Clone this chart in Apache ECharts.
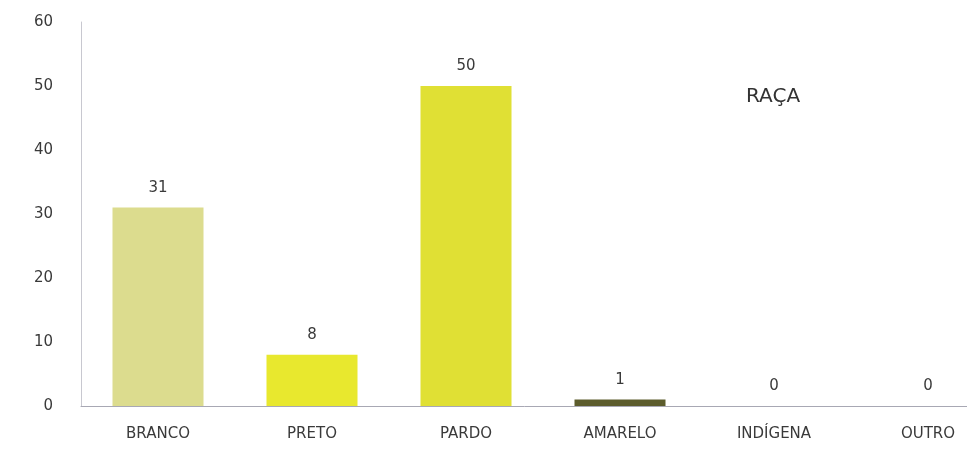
<!DOCTYPE html>
<html><head><meta charset="utf-8">
<script src="https://cdn.jsdelivr.net/npm/echarts@6/dist/echarts.min.js"></script>
<style>html,body{margin:0;padding:0;background:#fff}#c{width:967px;height:449px}</style>
</head><body><div id="c"></div>
<script>
var categories = ['BRANCO','PRETO','PARDO','AMARELO','INDÍGENA','OUTRO'];
var values = [31, 8, 50, 1, 0, 0];
var barColors = ['#dcdc8e','#e8e82e','#e0e034','#5c5c2c','#e0e034','#e0e034'];
var yTicks = [0, 60, 10];
var chart = echarts.init(document.getElementById('c'));
chart.setOption({
  backgroundColor: '#fff',
  animation: false,
  title: {text: 'RAÇA', left: 741, top: 82, textStyle: {fontFamily: 'DejaVu Sans', fontWeight: 'normal', fontSize: 20, color: '#333'}},
  grid: {left: 81, width: 924, top: 22, bottom: 43, outerBoundsMode: 'none', containLabel: false},
  xAxis: {
    type: 'category', data: categories,
    axisLine: {lineStyle: {color: '#a8a8b4'}},
    axisTick: {show: false},
    axisLabel: {color: '#3a3a3a', fontFamily: 'DejaVu Sans', fontSize: 15, margin: 21}
  },
  yAxis: {
    type: 'value', min: yTicks[0], max: yTicks[1], interval: yTicks[2],
    axisLine: {show: true, lineStyle: {color: '#c8c8d0'}},
    axisTick: {show: false},
    splitLine: {show: false},
    axisLabel: {color: '#3a3a3a', fontFamily: 'DejaVu Sans', fontSize: 15, margin: 28}
  },
  series: [{
    type: 'bar', barWidth: 91,
    data: values.map(function(v, i){ return {value: v, itemStyle: {color: barColors[i]}}; }),
    label: {show: true, position: 'top', distance: 12, color: '#3a3a3a', fontFamily: 'DejaVu Sans', fontSize: 15}
  }]
});
</script></body></html>
